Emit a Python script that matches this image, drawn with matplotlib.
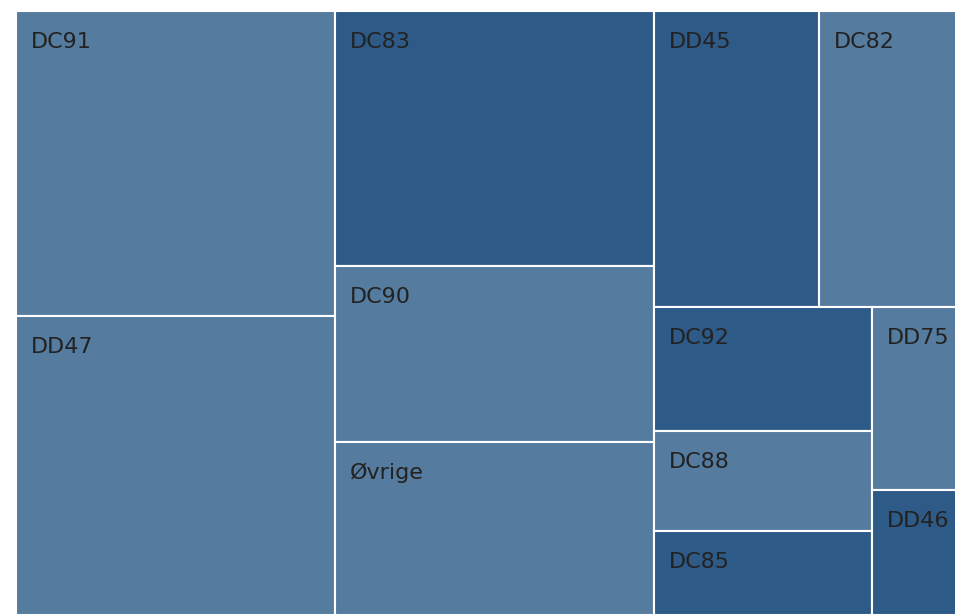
import math
import matplotlib
matplotlib.use("Agg")
import matplotlib.pyplot as plt
from matplotlib.patches import Rectangle

plt.rcParams['font.family'] = ['DejaVu Sans']

# data (arbitrary units)
labels = ['DC91', 'DD47', 'DC83', 'DC90', 'Øvrige', 'DD45', 'DC82',
          'DC92', 'DC88', 'DC85', 'DD75', 'DD46']
values = [97.1, 95.5, 81.3, 56.1, 55.2, 48.8, 43.8, 27.0, 21.8, 18.3, 17.4, 11.9]
shade = ['light', 'light', 'dark', 'light', 'light', 'dark', 'light',
         'dark', 'light', 'dark', 'light', 'dark']

colors = {'light': '#557b9f', 'dark': '#2e5a87'}


def squarify(vals, x0, y0, x1, y1, ratio=(1 + math.sqrt(5)) / 2):
    # same idea as d3-hierarchy treemapSquarify
    rects = []
    value = sum(vals)
    i0, n = 0, len(vals)
    while i0 < n:
        dx, dy = x1 - x0, y1 - y0
        i1 = i0
        s = vals[i1]
        i1 += 1
        mn = mx = s
        alpha = max(dy / dx, dx / dy) / (value * ratio)
        beta = s * s * alpha
        min_ratio = max(mx / beta, beta / mn)
        while i1 < n:
            v = vals[i1]
            s2 = s + v
            mn2, mx2 = min(mn, v), max(mx, v)
            beta = s2 * s2 * alpha
            new_ratio = max(mx2 / beta, beta / mn2)
            if new_ratio > min_ratio:
                break
            s, mn, mx, min_ratio = s2, mn2, mx2, new_ratio
            i1 += 1
        row = vals[i0:i1]
        if dx < dy:
            h = dy * s / value
            xx = x0
            for v in row:
                w = dx * v / s
                rects.append((xx, y0, w, h))
                xx += w
            y0 += h
        else:
            w = dx * s / value
            yy = y0
            for v in row:
                h = dy * v / s
                rects.append((x0, yy, w, h))
                yy += h
            x0 += w
        value -= s
        i0 = i1
    return rects


fig = plt.figure(figsize=(9.55, 6.15), dpi=100)
# the treemap runs a little past the right edge of the picture
ax = fig.add_axes([16 / 955, 0, 951 / 955, 604 / 615])
W, H = 951, 604

order = sorted(range(len(values)), key=lambda i: -values[i])
rects = squarify([values[i] for i in order], 0, 0, W, H)

for i, (x, y, w, h) in zip(order, rects):
    ax.add_patch(Rectangle((x, y), w, h, facecolor=colors[shade[i]],
                           edgecolor='white', linewidth=1.5))
    ax.annotate(labels[i], (x, y), xytext=(15 * 0.72, -37 * 0.72),
                textcoords='offset points', ha='left', va='baseline',
                fontsize=16, color='#222222')

ax.set_xlim(0, W)
ax.set_ylim(H, 0)
ax.axis('off')

fig.savefig('out.png', dpi=100)
